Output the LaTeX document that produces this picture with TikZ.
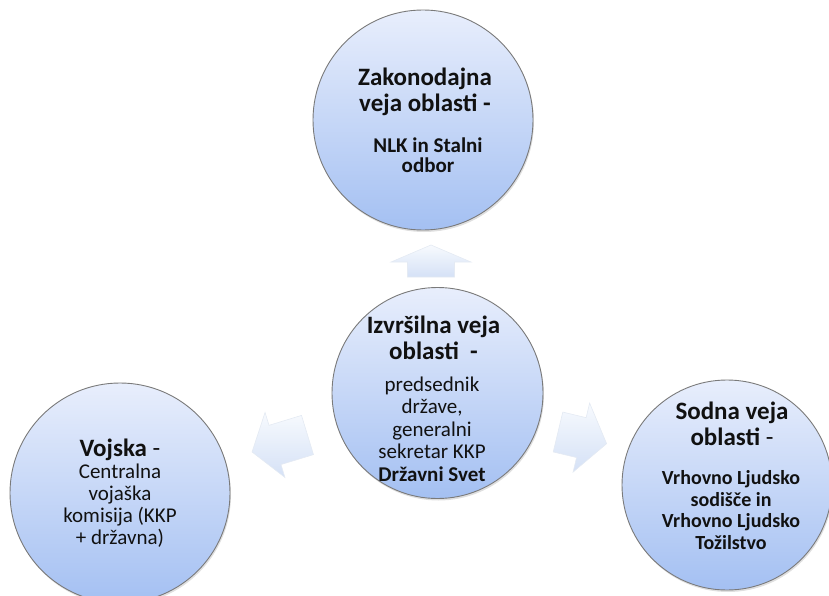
\documentclass[tikz,border=0pt]{standalone}
\usepackage{fontspec}
\setmainfont{Carlito}
\usetikzlibrary{shadows}
\definecolor{ctop}{HTML}{E8EEFC}
\definecolor{cbot}{HTML}{A4C0F2}
\definecolor{cedge}{HTML}{7A7A7A}
\definecolor{atop}{HTML}{F7FAFE}
\definecolor{abot}{HTML}{D5E1F6}
\definecolor{aedge}{HTML}{E4EAF3}
\definecolor{txtc}{HTML}{111111}
\newcommand\blockarr[7]{%
  \path[arr, shift={(#1,#2)}, rotate=#3]
    (0,{-#7/2}) -- ({#4-#5},{-#7/2}) -- ({#4-#5},{-#6/2}) -- (#4,0)
    -- ({#4-#5},{#6/2}) -- ({#4-#5},{#7/2}) -- (0,{#7/2}) -- cycle;}
\begin{document}
\begin{tikzpicture}[x=1pt,y=-1pt,
  bubble/.style={circle, inner sep=0pt, draw=cedge, line width=0.9pt,
    top color=ctop, bottom color=cbot,
    drop shadow={opacity=0.25, shadow xshift=1pt, shadow yshift=-2pt}},
  arr/.style={draw=aedge, line width=0.6pt, top color=atop, bottom color=abot},
  hd/.style={align=center, text=txtc, inner sep=0pt, font=\fontsize{25}{26}\selectfont\bfseries},
  sub/.style={align=center, text=txtc, inner sep=0pt, font=\fontsize{21}{22}\selectfont},
]
\useasboundingbox (0,0) rectangle (829,596);

% block arrows
\blockarr{431}{277}{90}{32}{17}{80}{47}
\blockarr{307.5}{435}{197}{58}{24}{68}{41}
\blockarr{558}{432}{-13.5}{50}{26}{71}{41}

% circles
\node[bubble, minimum size=220pt] (top) at (423,120) {};
\node[bubble, minimum size=211pt] (mid) at (437.5,393) {};
\node[bubble, minimum size=220pt] (left) at (120,493) {};
\node[bubble, minimum size=210pt] (right) at (727,485) {};

% top texts
\node[hd] (toph) at (425,92) {Zakonodajna\\veja oblasti -};
\node[sub, font=\fontsize{21}{20}\selectfont\bfseries] (tops) at (428,155.5) {NLK in Stalni\\odbor};

% centre texts
\node[hd] (midh) at (433.5,338) {Izvršilna veja\\oblasti\ \ -};
\node[sub, font=\fontsize{21}{22.5}\selectfont] (mids) at (432,429) {predsednik\\države,\\generalni\\sekretar KKP\\\textbf{Državni Svet}};

% left texts
\node[hd] (lefth) at (120,450) {Vojska {\mdseries -}};
\node[sub] (lefts) at (120,506) {Centralna\\vojaška\\komisija (KKP\\+ državna)};

% right texts
\node[hd] (righth) at (732,423.5) {Sodna veja\\oblasti {\mdseries -}};
\node[sub, font=\fontsize{20}{21.5}\selectfont\bfseries] (rights) at (731,510) {Vrhovno Ljudsko\\sodišče in\\Vrhovno Ljudsko\\Tožilstvo};
\end{tikzpicture}
\end{document}
